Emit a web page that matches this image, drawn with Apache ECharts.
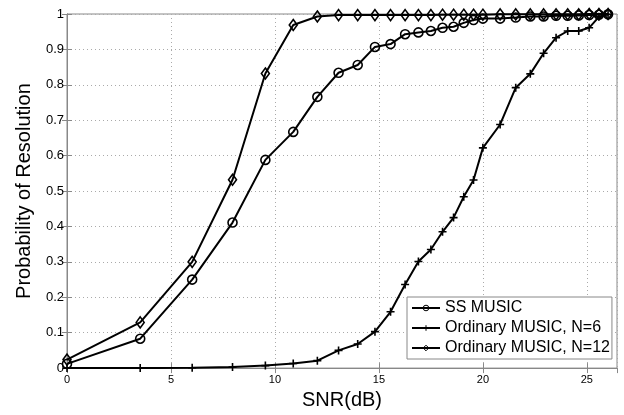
<!DOCTYPE html>
<html>
<head>
<meta charset="utf-8">
<script src="https://cdn.jsdelivr.net/npm/echarts@6/dist/echarts.min.js"></script>
<style>
html,body{margin:0;padding:0;background:#fff;}
#chart{width:624px;height:415px;}
</style>
</head>
<body>
<div id="chart"></div>
<script>
var snr = [0, 3.52, 6.02, 7.96, 9.54, 10.88, 12.04, 13.06, 13.98, 14.81, 15.56, 16.26, 16.9, 17.5, 18.06, 18.59, 19.08, 19.55, 20.0, 20.83, 21.58, 22.28, 22.92, 23.52, 24.08, 24.61, 25.11, 25.58, 26.02];
var ssMusic = [0.012, 0.083, 0.25, 0.411, 0.588, 0.667, 0.766, 0.834, 0.856, 0.907, 0.915, 0.943, 0.948, 0.952, 0.961, 0.964, 0.975, 0.983, 0.987, 0.987, 0.99, 0.993, 0.993, 0.995, 0.995, 0.996, 0.997, 0.998, 0.999];
var musicN6 = [0, 0, 0.001, 0.003, 0.007, 0.013, 0.021, 0.05, 0.068, 0.103, 0.159, 0.236, 0.301, 0.335, 0.385, 0.425, 0.484, 0.531, 0.622, 0.688, 0.792, 0.831, 0.889, 0.933, 0.952, 0.952, 0.961, 0.992, 0.999];
var musicN12 = [0.024, 0.129, 0.30, 0.532, 0.832, 0.969, 0.993, 0.997, 0.997, 0.997, 0.997, 0.997, 0.997, 0.997, 0.998, 0.998, 0.998, 0.998, 0.998, 0.999, 0.999, 0.999, 0.999, 0.999, 0.999, 0.999, 1, 1, 1];
var seriesNames = ['SS MUSIC', 'Ordinary MUSIC, N=6', 'Ordinary MUSIC, N=12'];
var xTicks = [0, 5, 10, 15, 20, 25];

function pairs(xs, ys) { return xs.map(function (x, i) { return [x, ys[i]]; }); }

var FONT = '"Liberation Sans", Arial, Helvetica, sans-serif';
var AX = '#888';
var chart = echarts.init(document.getElementById('chart'), null, {renderer: 'canvas'});

var lineBase = {
  type: 'line',
  xAxisIndex: 0, yAxisIndex: 0,
  color: '#000',
  lineStyle: {color: '#000', width: 2},
  emphasis: {disabled: true},
  animation: false,
  z: 3
};

chart.setOption({
  animation: false,
  backgroundColor: '#fff',
  grid: {left: 67, right: 7, top: 14, bottom: 43, show: true, borderColor: AX, borderWidth: 1},
  legend: {
    left: 407, top: 297, orient: 'vertical',
    backgroundColor: '#fff', borderColor: AX, borderWidth: 1,
    padding: [3, 2, 3, 4], itemGap: 4, itemWidth: 28, itemHeight: 7,
    selectedMode: false,
    itemStyle: {borderWidth: 1},
    textStyle: {fontFamily: FONT, fontSize: 16, color: '#000', lineHeight: 16},
    data: seriesNames
  },
  xAxis: [{
    type: 'value', min: 0, max: 26.45, interval: 5,
    name: 'SNR(dB)', nameLocation: 'middle', nameGap: 17,
    nameTextStyle: {fontFamily: FONT, fontSize: 20, color: '#000'},
    axisLine: {show: true, lineStyle: {color: AX}},
    axisTick: {show: true, inside: true, length: 5, lineStyle: {color: AX}},
    axisLabel: {fontFamily: FONT, fontSize: 11, color: '#000', margin: 6, showMaxLabel: false,
      formatter: function (v) { return xTicks.indexOf(v) >= 0 ? String(v) : ''; }},
    splitLine: {show: true, lineStyle: {color: '#aaa', type: [1, 3], width: 1}}
  }, {
    type: 'value', position: 'top', min: 0, max: 26.45, interval: 5,
    axisLine: {show: true, lineStyle: {color: AX}},
    axisTick: {show: true, inside: true, length: 5, lineStyle: {color: AX}},
    axisLabel: {show: false}, splitLine: {show: false}
  }],
  yAxis: [{
    type: 'value', min: 0, max: 1, interval: 0.1,
    name: 'Probability of Resolution', nameLocation: 'middle', nameGap: 33,
    nameTextStyle: {fontFamily: FONT, fontSize: 20, color: '#000'},
    axisLine: {show: true, lineStyle: {color: AX}},
    axisTick: {show: true, inside: true, length: 5, lineStyle: {color: AX}},
    axisLabel: {fontFamily: FONT, fontSize: 13, color: '#000', margin: 3,
      formatter: function (v) { return String(Math.round(v * 10) / 10); }},
    splitLine: {show: true, lineStyle: {color: '#aaa', type: [1, 3], width: 1}}
  }, {
    type: 'value', position: 'right', min: 0, max: 1, interval: 0.1,
    axisLine: {show: true, lineStyle: {color: AX}},
    axisTick: {show: true, inside: true, length: 5, lineStyle: {color: AX}},
    axisLabel: {show: false}, splitLine: {show: false}
  }],
  series: [
    Object.assign({}, lineBase, {
      name: seriesNames[0], data: pairs(snr, ssMusic),
      symbol: 'circle', symbolSize: 9,
      itemStyle: {color: 'rgba(0,0,0,0)', borderColor: '#000', borderWidth: 1.6}
    }),
    Object.assign({}, lineBase, {
      name: seriesNames[1], data: pairs(snr, musicN6),
      symbol: 'path://M5,0 L5,10 M0,5 L10,5', symbolSize: 8,
      itemStyle: {color: 'rgba(0,0,0,0)', borderColor: '#000', borderWidth: 1.6}
    }),
    Object.assign({}, lineBase, {
      name: seriesNames[2], data: pairs(snr, musicN12),
      symbol: 'diamond', symbolSize: [8, 11],
      itemStyle: {color: 'rgba(0,0,0,0)', borderColor: '#000', borderWidth: 1.6}
    })
  ]
});
</script>
</body>
</html>
